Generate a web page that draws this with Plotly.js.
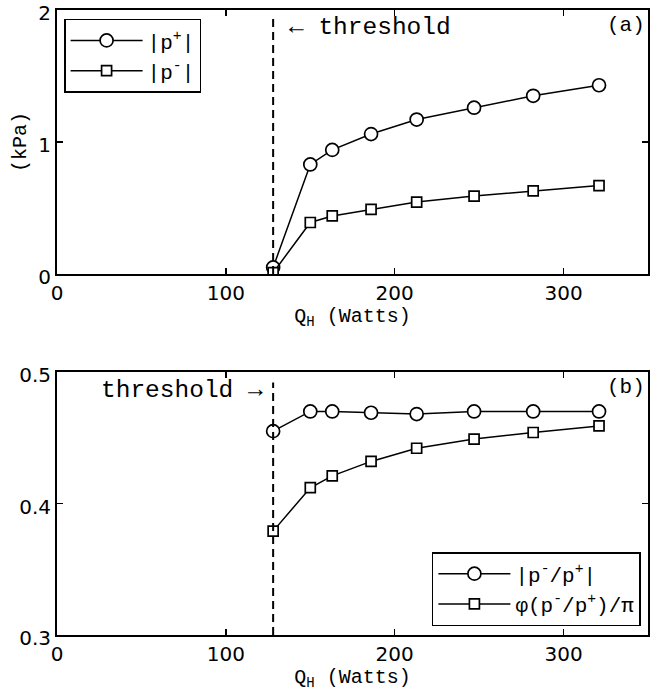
<!DOCTYPE html>
<html><head><meta charset="utf-8">
<script src="https://cdn.plot.ly/plotly-3.0.1.min.js"></script>
<style>html,body{margin:0;padding:0;background:#fff}</style>
</head><body><div id="chart" style="width:657px;height:693px"></div>
<script>
// Heat input Q_H (Watts)
const qH = [128, 150, 163, 186, 213, 247, 282, 321];
const thresholdQ = 128;
// panel (a): amplitudes (kPa)
const pPlus  = [0.05, 0.83, 0.94, 1.06, 1.17, 1.26, 1.35, 1.43];
const pMinus = [0.01, 0.39, 0.44, 0.49, 0.545, 0.59, 0.63, 0.67];
// panel (b): ratios
const ratioMag   = [0.455, 0.470, 0.470, 0.469, 0.468, 0.470, 0.470, 0.470];
const ratioPhase = [0.379, 0.412, 0.421, 0.432, 0.442, 0.449, 0.454, 0.459];
const xTicks = [0, 100, 200, 300];
const yTicksA = [0, 1, 2];
const yTicksB = [0.3, 0.4, 0.5];

const mono = 'Liberation Mono, monospace';
const sans = 'DejaVu Sans, sans-serif';

function tr(y, name, sym, size, xa, ya, leg){
  return {x: qH, y: y, name: name, xaxis: xa, yaxis: ya, legend: leg,
    type: 'scatter', mode: 'lines+markers',
    line: {color: '#000', width: 1.5},
    marker: {symbol: sym, size: size, color: '#fff', line: {color: '#000', width: 1.7}}};
}
const data = [
  tr(pPlus, '|p<sup>+</sup>|', 'circle', 13, 'x', 'y', 'legend'),
  tr(pMinus, '|p<sup>-</sup>|', 'square', 10, 'x', 'y', 'legend'),
  tr(ratioMag, '|p<sup>-</sup>/p<sup>+</sup>|', 'circle', 13, 'x2', 'y2', 'legend2'),
  tr(ratioPhase, 'φ(p<sup>-</sup>/p<sup>+</sup>)/π', 'square', 10, 'x2', 'y2', 'legend2')
];

function xax(anchor, st){
  return {anchor: anchor, range: [0, 350], tickvals: xTicks, ticks: 'inside', ticklen: 6,
    tickwidth: 1.5, tickcolor: '#000', showline: true, linecolor: '#000', linewidth: 2,
    mirror: 'ticks', showgrid: false, zeroline: false, ticklabeloverflow: 'allow',
    tickfont: {family: sans, size: 20, color: '#000'},
    title: {text: 'Q<sub>H</sub> (Watts)', font: {family: mono, size: 20, color: '#000'}, standoff: st}};
}
function yax(anchor, dom, rng, tv, title){
  const a = {anchor: anchor, domain: dom, range: rng, tickvals: tv, ticks: 'inside', ticklen: 6,
    tickwidth: 1.5, tickcolor: '#000', showline: true, linecolor: '#000', linewidth: 2,
    mirror: 'ticks', showgrid: false, zeroline: false, ticklabeloverflow: 'allow',
    ticklabelshift: 3,
    tickfont: {family: sans, size: 20, color: '#000'}};
  if (title) a.title = {text: title, font: {family: mono, size: 20, color: '#000'}, standoff: 6};
  return a;
}

const legFont = {family: mono, size: 21, color: '#000'};
const layout = {
  width: 657, height: 693,
  margin: {l: 57, r: 9, t: 10, b: 58},
  paper_bgcolor: '#fff', plot_bgcolor: '#fff',
  showlegend: true,
  xaxis: xax('y', 4),
  yaxis: yax('x', [0.5776, 1], [0, 2], yTicksA, '(kPa)'),
  xaxis2: xax('y2', 0),
  yaxis2: yax('x2', [0, 0.4208], [0.3, 0.5], yTicksB, null),
  legend: {x: 0.012, y: 0.986, xanchor: 'left', yanchor: 'top', bgcolor: '#fff', itemwidth: 72,
    bordercolor: '#000', borderwidth: 1.5, font: legFont},
  legend2: {x: 0.988, y: 0.0144, xanchor: 'right', yanchor: 'bottom', bgcolor: '#fff', itemwidth: 72,
    bordercolor: '#000', borderwidth: 1.5, font: legFont},
  shapes: [
    {type: 'line', xref: 'x', yref: 'y domain', x0: thresholdQ, x1: thresholdQ, y0: 0, y1: 0.97,
     line: {color: '#000', width: 2, dash: '8px,5px'}},
    {type: 'line', xref: 'x2', yref: 'y2 domain', x0: thresholdQ, x1: thresholdQ, y0: 0, y1: 0.96,
     line: {color: '#000', width: 2, dash: '8px,5px'}}
  ],
  annotations: [
    {xref: 'x', yref: 'y domain', x: 136, y: 0.935, xanchor: 'left', yanchor: 'middle', showarrow: false,
     text: '← threshold', font: {family: mono, size: 24.5, color: '#000'}},
    {xref: 'x domain', yref: 'y domain', x: 0.998, y: 0.94, xanchor: 'right', yanchor: 'middle', showarrow: false,
     text: '(a)', font: {family: mono, size: 21, color: '#000'}},
    {xref: 'x2', yref: 'y2 domain', x: 123, y: 0.93, xanchor: 'right', yanchor: 'middle', showarrow: false,
     text: 'threshold →', font: {family: mono, size: 24.5, color: '#000'}},
    {xref: 'x2 domain', yref: 'y2 domain', x: 0.998, y: 0.94, xanchor: 'right', yanchor: 'middle', showarrow: false,
     text: '(b)', font: {family: mono, size: 21, color: '#000'}}
  ]
};
Plotly.newPlot('chart', data, layout, {displayModeBar: false, staticPlot: true});
</script></body></html>
